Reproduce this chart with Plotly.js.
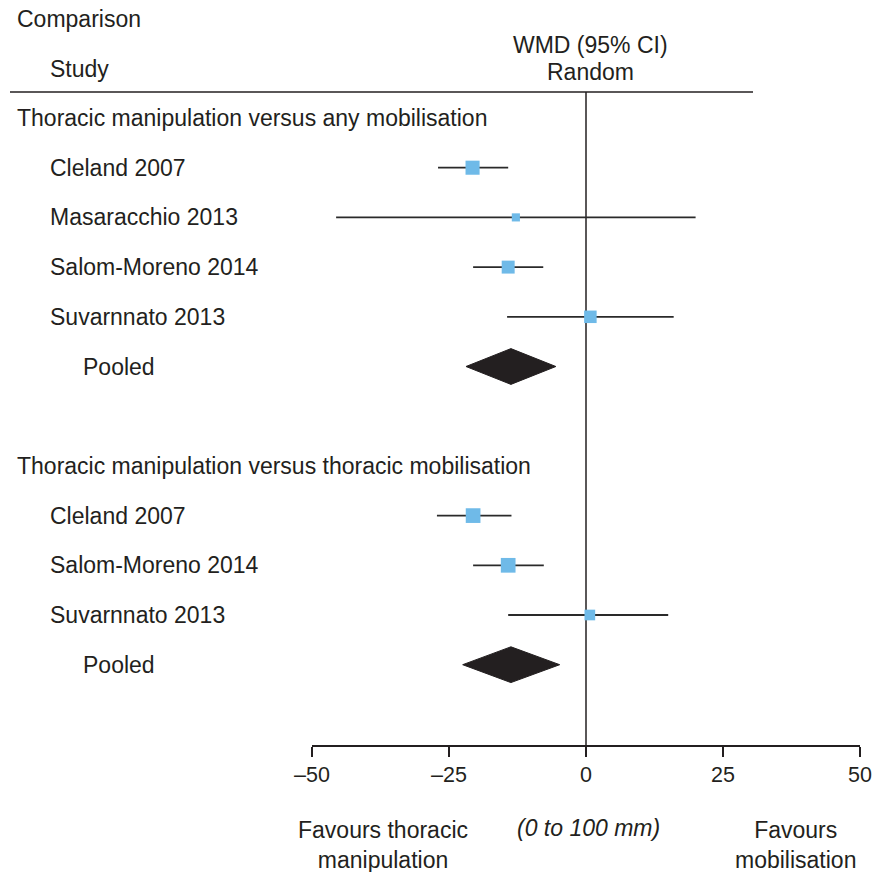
<!DOCTYPE html>
<html>
<head>
<meta charset="utf-8">
<script src="https://cdn.plot.ly/plotly-3.0.1.min.js"></script>
<style>html,body{margin:0;padding:0;background:#fff;}#chart{width:873px;height:872px;}</style>
</head>
<body>
<div id="chart"></div>
<script>
// ---- data ----
var groupLabels = ['Thoracic manipulation versus any mobilisation', 'Thoracic manipulation versus thoracic mobilisation'];
var groupRows = [0, 7];
var studyLabels = ['Cleland 2007', 'Masaracchio 2013', 'Salom-Moreno 2014', 'Suvarnnato 2013',
                   'Cleland 2007', 'Salom-Moreno 2014', 'Suvarnnato 2013'];
var studyRows = [1, 2, 3, 4, 8, 9, 10];
var studyEst = [-20.7, -12.8, -14.2, 0.8, -20.6, -14.2, 0.7];
var studyLo  = [-27.0, -45.6, -20.6, -14.4, -27.2, -20.6, -14.2];
var studyHi  = [-14.2, 20.0, -7.8, 16.0, -13.6, -7.7, 15.0];
var studyWeight = [33, 11, 28, 26, 36, 36, 19];
var pooledLabels = ['Pooled', 'Pooled'];
var pooledRows = [5, 11];
var pooledEst = [-13.7, -13.7];
var pooledLo  = [-21.9, -22.5];
var pooledHi  = [-5.5, -4.8];
var tickVals = [-50, -25, 0, 25, 50];
var tickText = ['\u201350', '\u201325', '0', '25', '50'];

// ---- layout geometry ----
var W = 873, H = 872;
var L = 312, R = 860, T = 92, B = 745;
function px(x) { return (x - L) / (R - L); }
function py(y) { return (B - y) / (B - T); }
var FONT = 'Liberation Sans, Arial, Helvetica, sans-serif';
var TXT = '#231f20';
var FS = 23;

var traces = [];
// study CIs + squares
traces.push({
  type: 'scatter', mode: 'markers',
  x: studyEst, y: studyRows,
  error_x: {
    type: 'data', symmetric: false,
    array: studyEst.map(function (e, i) { return studyHi[i] - e; }),
    arrayminus: studyEst.map(function (e, i) { return e - studyLo[i]; }),
    color: '#2a2a2a', thickness: 1.8, width: 0
  },
  marker: {
    symbol: 'square', color: '#6fbae8', opacity: 1,
    size: studyWeight.map(function (w) { return 2.45 * Math.sqrt(w); }),
    line: { width: 0 }
  },
  hoverinfo: 'x', showlegend: false, cliponaxis: false
});
// pooled diamonds
var DH = 0.36;
for (var i = 0; i < pooledRows.length; i++) {
  var r = pooledRows[i];
  traces.push({
    type: 'scatter', mode: 'lines',
    x: [pooledLo[i], pooledEst[i], pooledHi[i], pooledEst[i], pooledLo[i]],
    y: [r, r - DH, r, r + DH, r],
    fill: 'toself', fillcolor: '#231f20',
    line: { color: '#231f20', width: 1 },
    hoverinfo: 'skip', showlegend: false
  });
}

var annotations = [];
function ann(text, x, y, xref, yref, xanchor, extra) {
  var a = { text: text, x: x, y: y, xref: xref, yref: yref, xanchor: xanchor, yanchor: 'middle',
            showarrow: false, font: { family: FONT, size: FS, color: TXT } };
  if (extra) for (var k in extra) a[k] = extra[k];
  annotations.push(a);
}
groupLabels.forEach(function (g, i) { ann(g, px(15), groupRows[i], 'paper', 'y', 'left'); });
studyLabels.forEach(function (s, i) { ann(s, px(48), studyRows[i], 'paper', 'y', 'left'); });
pooledLabels.forEach(function (s, i) { ann(s, px(81), pooledRows[i], 'paper', 'y', 'left'); });
ann('Comparison', px(15), py(19), 'paper', 'paper', 'left');
ann('Study', px(48), py(69), 'paper', 'paper', 'left');
ann('WMD (95% CI)', px(590), py(45), 'paper', 'paper', 'center');
ann('Random', px(590), py(72), 'paper', 'paper', 'center');
ann('Favours thoracic<br>manipulation', px(383), py(845), 'paper', 'paper', 'center');
ann('<i>(0 to 100 mm)</i>', px(588), py(828), 'paper', 'paper', 'center');
ann('Favours<br>mobilisation', px(795), py(845), 'paper', 'paper', 'center');

var layout = {
  width: W, height: H,
  margin: { l: L, r: W - R, t: T, b: H - B, pad: 0 },
  paper_bgcolor: '#ffffff', plot_bgcolor: '#ffffff',
  font: { family: FONT, size: FS, color: TXT },
  xaxis: {
    range: [-50, 50], tickvals: tickVals, ticktext: tickText,
    showgrid: false, zeroline: false, showline: true, linecolor: '#231f20', linewidth: 1.5,
    ticks: 'outside', ticklen: 10, tickwidth: 1.5, tickcolor: '#231f20',
    tickfont: { family: FONT, size: 21.5, color: TXT }, fixedrange: true
  },
  yaxis: {
    range: [(B - 118) / 49.7, (T - 118) / 49.7],
    showgrid: false, zeroline: false, showline: false, showticklabels: false, ticks: '',
    fixedrange: true
  },
  shapes: [
    { type: 'line', xref: 'x', yref: 'paper', x0: 0, x1: 0, y0: 0, y1: 1,
      line: { color: '#231f20', width: 1.5 }, layer: 'below' },
    { type: 'line', xref: 'paper', yref: 'paper', x0: px(10), x1: px(753), y0: 1, y1: 1,
      line: { color: '#231f20', width: 1.5 } }
  ],
  annotations: annotations,
  showlegend: false
};

Plotly.newPlot('chart', traces, layout, { displayModeBar: false, staticPlot: true });
</script>
</body>
</html>
